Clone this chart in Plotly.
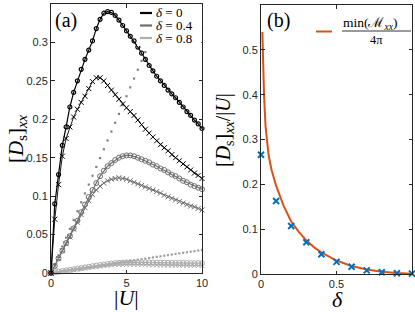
import plotly.graph_objects as go

# ---------------- data: panel (a) ----------------
U = [0, 0.25, 0.5, 0.75, 1.0, 1.25, 1.5, 1.75, 2.0, 2.25, 2.5, 2.75, 3.0, 3.25, 3.5, 3.75,
     4.0, 4.25, 4.5, 4.75, 5.0, 5.25, 5.5, 5.75, 6.0, 6.25, 6.5, 6.75, 7.0, 7.25, 7.5, 7.75,
     8.0, 8.25, 8.5, 8.75, 9.0, 9.25, 9.5, 9.75, 10.0]

d0_circ = [0, 0.090, 0.128, 0.166, 0.190, 0.216, 0.235, 0.250, 0.265, 0.278, 0.290, 0.302,
           0.318, 0.330, 0.338, 0.340, 0.339, 0.335, 0.329, 0.322, 0.315, 0.308, 0.302, 0.294,
           0.286, 0.278, 0.270, 0.263, 0.256, 0.250, 0.244, 0.238, 0.233, 0.228, 0.222, 0.216,
           0.210, 0.205, 0.199, 0.194, 0.188]
d0_cross = [0, 0.070, 0.115, 0.152, 0.175, 0.190, 0.203, 0.213, 0.222, 0.230, 0.240, 0.249,
            0.254, 0.254, 0.250, 0.244, 0.238, 0.232, 0.226, 0.220, 0.215, 0.210, 0.205, 0.199,
            0.193, 0.187, 0.182, 0.177, 0.172, 0.167, 0.163, 0.159, 0.154, 0.150, 0.146, 0.142,
            0.138, 0.134, 0.130, 0.127, 0.123]
d4_circ = [0, 0.009, 0.019, 0.029, 0.039, 0.048, 0.058, 0.068, 0.079, 0.089, 0.099, 0.108,
           0.117, 0.126, 0.133, 0.139, 0.143, 0.147, 0.150, 0.152, 0.153, 0.153, 0.152, 0.150,
           0.148, 0.146, 0.144, 0.141, 0.139, 0.136, 0.134, 0.131, 0.128, 0.126, 0.123, 0.120,
           0.118, 0.115, 0.113, 0.111, 0.109]
d4_cross = [0, 0.009, 0.019, 0.029, 0.038, 0.047, 0.057, 0.066, 0.076, 0.085, 0.094, 0.102,
            0.108, 0.113, 0.117, 0.120, 0.122, 0.123, 0.124, 0.123, 0.122, 0.120, 0.118, 0.116,
            0.114, 0.112, 0.110, 0.108, 0.106, 0.104, 0.101, 0.099, 0.097, 0.095, 0.093, 0.091,
            0.089, 0.087, 0.086, 0.084, 0.082]
d8_circ = [0, 0.0008, 0.0016, 0.0025, 0.0033, 0.0041, 0.0049, 0.0057, 0.0065, 0.0073, 0.0081,
           0.0089, 0.0097, 0.0104, 0.0111, 0.0118, 0.0124, 0.0129, 0.0133, 0.0136, 0.0138,
           0.0139, 0.0139, 0.0139, 0.0138, 0.0138, 0.0137, 0.0136, 0.0135, 0.0135, 0.0134,
           0.0133, 0.0132, 0.0132, 0.0131, 0.0130, 0.0130, 0.0129, 0.0128, 0.0128, 0.0127]
d8_cross = [0, 0.0007, 0.0014, 0.0021, 0.0028, 0.0035, 0.0042, 0.0049, 0.0056, 0.0063, 0.0070,
            0.0077, 0.0084, 0.0090, 0.0096, 0.0101, 0.0105, 0.0108, 0.0110, 0.0111, 0.0111,
            0.0111, 0.0110, 0.0110, 0.0109, 0.0108, 0.0107, 0.0106, 0.0105, 0.0104, 0.0103,
            0.0102, 0.0101, 0.0100, 0.0099, 0.0099, 0.0098, 0.0097, 0.0096, 0.0096, 0.0095]
# small-U linear asymptotes (dotted)
U_lin4 = [0, 0.25, 0.5, 0.75, 1.0, 1.25, 1.5, 1.75, 2.0, 2.25, 2.5, 2.75, 3.0, 3.25, 3.5, 3.75,
          4.0, 4.25, 4.5, 4.75, 5.0, 5.25, 5.5, 5.75, 6.0, 6.25, 6.5, 6.75, 7.0, 7.25, 7.5]
lin4 = [0, 0.0115, 0.023, 0.0345, 0.046, 0.0575, 0.069, 0.0805, 0.092, 0.1035, 0.115, 0.1265,
        0.138, 0.1495, 0.161, 0.1725, 0.184, 0.1955, 0.207, 0.2185, 0.23, 0.2415, 0.253, 0.2645,
        0.276, 0.2875, 0.299, 0.3105, 0.322, 0.3335, 0.345]
lin8 = [0, 0.00075, 0.0015, 0.00225, 0.003, 0.00375, 0.0045, 0.00525, 0.006, 0.00675, 0.0075,
        0.00825, 0.009, 0.00975, 0.0105, 0.01125, 0.012, 0.01275, 0.0135, 0.01425, 0.015,
        0.01575, 0.0165, 0.01725, 0.018, 0.01875, 0.0195, 0.02025, 0.021, 0.02175, 0.0225,
        0.02325, 0.024, 0.02475, 0.0255, 0.02625, 0.027, 0.02775, 0.0285, 0.02925, 0.03]
legend_a = ["0", "0.4", "0.8"]

# ---------------- data: panel (b) ----------------
delta = [0, 0.1, 0.2, 0.3, 0.4, 0.5, 0.6, 0.7, 0.8, 0.9, 1.0]
ratio = [0.266, 0.163, 0.107, 0.071, 0.044, 0.027, 0.016, 0.008, 0.004, 0.0015, 0.0008]
delta_f = [0.009, 0.012, 0.015, 0.02, 0.03, 0.04, 0.05, 0.07, 0.1, 0.15, 0.2, 0.25, 0.3,
           0.35, 0.4, 0.5, 0.6, 0.7, 0.8, 0.9, 1.0]
minM = [0.54, 0.49, 0.45, 0.40, 0.33, 0.292, 0.266, 0.232, 0.197, 0.152, 0.117, 0.094, 0.075,
        0.060, 0.048, 0.030, 0.018, 0.010, 0.005, 0.002, 0.0005]

# ---------------- styling ----------------
W, H = 415, 312
C0, C4, C8 = "#000000", "#6e6e6e", "#adadad"
AX = "#262626"
SERIF = "Liberation Serif"
SANS = "Liberation Sans"

fig = go.Figure()

def add(x, y, color, symbol, size, lw=1.0, mlw=1.0, mode="lines+markers", ax="1"):
    fig.add_trace(go.Scatter(
        x=x, y=y, mode=mode, cliponaxis=False, showlegend=False, hoverinfo="skip",
        line=dict(color=color, width=lw),
        marker=dict(symbol=symbol, size=size, color=color, line=dict(color=color, width=mlw)),
        xaxis="x" if ax == "1" else "x2", yaxis="y" if ax == "1" else "y2"))

# dotted asymptotes
add(U_lin4, lin4, "#808080", "square", 2.2, mode="markers", mlw=0)
add(U, lin8, "#a0a0a0", "square", 2.2, mode="markers", mlw=0)
# delta = 0.8
add(U, d8_circ, C8, "circle-open", 5, lw=1.2)
add(U, d8_cross, C8, "x-thin", 5, lw=1.0)
# delta = 0.4
add(U, d4_circ, C4, "circle-open", 5, lw=1.2)
add(U, d4_cross, C4, "x-thin", 5, lw=1.0)
# delta = 0
add(U, d0_cross, C0, "x-thin", 5, lw=0.9)
add(U, d0_circ, C0, "circle-open", 4, lw=1.2, mlw=1.2)

# panel (b)
fig.add_trace(go.Scatter(x=delta_f, y=minM, mode="lines", showlegend=False, cliponaxis=False,
                         hoverinfo="skip",
                         line=dict(color="#D95319", width=2), xaxis="x2", yaxis="y2"))
fig.add_trace(go.Scatter(x=delta, y=ratio, mode="markers", showlegend=False, cliponaxis=False,
                         hoverinfo="skip",
                         marker=dict(symbol="x-thin", size=6, color="#0072BD",
                                     line=dict(color="#0072BD", width=2)),
                         xaxis="x2", yaxis="y2"))

def px(x):
    return x / W

def py(y):
    return 1 - y / H

axcommon = dict(showline=True, linecolor=AX, linewidth=1, mirror="ticks", ticks="inside",
                ticklen=3.5, tickwidth=1, tickcolor=AX, showgrid=False, zeroline=False,
                automargin=False, tickfont=dict(family=SANS, size=11, color=AX))

fig.update_layout(
    template="none",
    width=W, height=H, margin=dict(l=0, r=0, t=0, b=0, pad=0), autosize=False,
    paper_bgcolor="white", plot_bgcolor="white", showlegend=False,
    xaxis=dict(domain=[px(51), px(202)], range=[0, 10], tickvals=[0, 5, 10],
               ticktext=["0", "5", "10"], anchor="y", **axcommon),
    yaxis=dict(domain=[py(273), py(4)], range=[0, 0.35],
               tickvals=[0, 0.05, 0.1, 0.15, 0.2, 0.25, 0.3, 0.35],
               ticktext=["0", "0.05", "0.1", "0.15", "0.2", "0.25", "0.3", "0.35"],
               anchor="x", **axcommon),
    xaxis2=dict(domain=[px(261), px(412)], range=[0, 1], tickvals=[0, 0.5, 1],
                ticktext=["0", "0.5", "1"], anchor="y2", **axcommon),
    yaxis2=dict(domain=[py(274), py(5)], range=[0, 0.6],
                tickvals=[0, 0.1, 0.2, 0.3, 0.4, 0.5, 0.6],
                ticktext=["0", "0.1", "0.2", "0.3", "0.4", "0.5", "0.6"],
                anchor="x2", **axcommon),
)

shapes = []
ann = []
# legend of panel (a): white background + samples
shapes.append(dict(type="rect", xref="paper", yref="paper", x0=px(137), x1=px(201.3),
                   y0=py(46), y1=py(4.6), fillcolor="white", line=dict(width=0), layer="above"))
rows = [13, 25.5, 38]
for name, col, ry in zip(legend_a, [C0, C4, C8], rows):
    shapes.append(dict(type="line", xref="paper", yref="paper", x0=px(140), x1=px(152),
                       y0=py(ry), y1=py(ry), line=dict(color=col, width=2.2), layer="above"))
    ann.append(dict(xref="paper", yref="paper", x=px(154), y=py(ry), xanchor="left",
                    yanchor="middle", showarrow=False,
                    text="<i>δ</i> = " + name,
                    font=dict(family=SERIF, size=13, color="black")))
# legend of panel (b)
shapes.append(dict(type="line", xref="paper", yref="paper", x0=px(316), x1=px(332),
                   y0=py(31.5), y1=py(31.5), line=dict(color="#D95319", width=2), layer="above"))
shapes.append(dict(type="line", xref="paper", yref="paper", x0=px(342), x1=px(411),
                   y0=py(31), y1=py(31), line=dict(color="black", width=0.8), layer="above"))

def label(x, y, text, size, angle=0, xa="left", ya="middle"):
    ann.append(dict(xref="paper", yref="paper", x=px(x), y=py(y), showarrow=False,
                    textangle=angle, xanchor=xa, yanchor=ya, text=text,
                    font=dict(family=SERIF, size=size, color="black")))

label(341, 24, "min(ℳ<sub><i>xx</i></sub>)", 13.5)
label(368, 40, "4π", 12.5)
# panel labels
label(53, 20, "(a)", 20)
label(265, 21, "(b)", 20)
# axis titles
label(17, 139, "[<i>D</i><sub>s</sub>]<sub><i>xx</i></sub>", 21, angle=-90, xa="center")
label(224, 130, "[<i>D</i><sub>s</sub>]<sub><i>xx</i></sub>/|<i>U</i>|", 20, angle=-90, xa="center")
label(112, 297, "|<i>U</i>|", 22)
label(330, 299, "<i>δ</i>", 22)

fig.update_layout(shapes=shapes, annotations=ann)
fig.write_html("out.html", config={"displayModeBar": False, "staticPlot": True},
               post_script="document.body.style.margin='0';document.body.style.padding='0';"
                           "document.documentElement.style.overflow='hidden';")
